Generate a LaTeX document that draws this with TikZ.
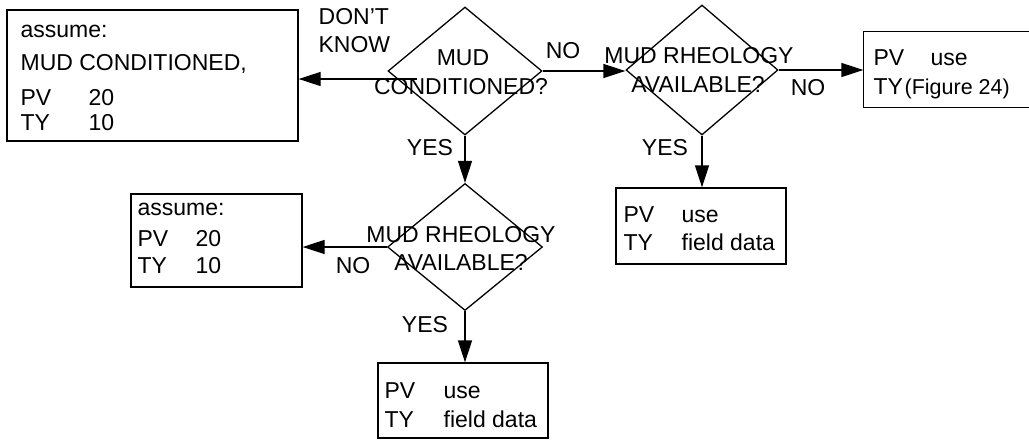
\documentclass[tikz,border=0pt]{standalone}
\usepackage{fontspec}
\setmainfont{Liberation Sans}
\usetikzlibrary{shapes.geometric,arrows.meta}
\begin{document}
\begin{tikzpicture}[x=1pt,y=-1pt,
  line width=1.3pt,
  txt/.style={inner sep=0pt,anchor=base west,font=\fontsize{23}{27}\selectfont},
  ctxt/.style={txt,anchor=base},
  smalltxt/.style={txt,font=\fontsize{21.5}{25}\selectfont},
  box/.style={draw,rectangle,inner sep=0pt},
  decision/.style={draw,diamond,inner sep=0pt},
  flow/.style={-{Triangle[length=22pt,width=14pt]}}]
\useasboundingbox (0,0) rectangle (1029,440);

% decisions
\node[decision,minimum width=154pt,minimum height=128pt] (d1) at (465,71) {};
\node[decision,minimum width=152pt,minimum height=130pt] (d2) at (702,70) {};
\node[decision,minimum width=155pt,minimum height=127pt] (d3) at (465,247) {};

% result boxes
\node[box,minimum width=291pt,minimum height=131pt] (b1) at (152.5,75.5) {};
\node[rectangle,inner sep=0pt,minimum width=165pt,minimum height=75pt] (b3) at (946.5,69.5) {};
\draw ([xshift=10pt]b3.north east) -- (b3.north west) -- (b3.south west) -- ([xshift=10pt]b3.south east);
\node[box,minimum width=170pt,minimum height=76pt] (b4) at (701,226) {};
\node[box,minimum width=171pt,minimum height=93pt] (b5) at (216.5,240.5) {};
\node[box,minimum width=170pt,minimum height=75pt] (b6) at (463,400.5) {};

% connectors
\coordinate (s1) at (417,79);
\draw[flow] (s1) -- (s1 -| b1.east);
\draw[flow] (d1.east) -- (d1.east -| d2.west);
\draw[flow] (d2.east) -- (d2.east -| b3.west);
\draw[flow] (d1.south) -- (d3.north);
\draw[flow] (d2.south) -- (d2.south |- b4.north);
\draw[flow] (d3.west) -- (d3.west -| b5.east);
\draw[flow] (d3.south) -- (d3.south |- b6.north);

% box 1
\node[txt] (t1a) at (20,37) {assume:};
\node[txt] (t1b) at (20,70) {MUD CONDITIONED,};
\node[txt] (t1c) at (20,105) {PV};
\node[txt] (t1d) at (88,105) {20};
\node[txt] (t1e) at (20,130) {TY};
\node[txt] (t1f) at (88,130) {10};

% branch labels
\node[txt] (l1a) at (318,24) {DON’T};
\node[txt] (l1b) at (318,52) {KNOW};
\node[ctxt] (l2) at (563,58) {NO};
\node[ctxt] (l3) at (808,95) {NO};
\node[ctxt] (l4) at (430,155) {YES};
\node[ctxt] (l5) at (665,155) {YES};
\node[ctxt] (l6) at (353,273) {NO};
\node[ctxt] (l7) at (425,332) {YES};

% decision texts
\node[ctxt] (q1a) at (463,65) {MUD};
\node[ctxt] (q1b) at (461,94) {CONDITIONED?};
\node[ctxt] (q2a) at (699,63) {MUD RHEOLOGY};
\node[ctxt] (q2b) at (698,92) {AVAILABLE?};
\node[ctxt] (q3a) at (461,242) {MUD RHEOLOGY};
\node[ctxt] (q3b) at (461,270) {AVAILABLE?};

% box 3
\node[txt] (t3a) at (873,65) {PV};
\node[txt] (t3b) at (930,65) {use};
\node[txt] (t3c) at (873,94) {TY};
\node[smalltxt] (t3d) at (904,94) {(Figure 24)};

% box 4
\node[txt] (t4a) at (623,222) {PV};
\node[txt] (t4b) at (681,222) {use};
\node[txt] (t4c) at (623,250) {TY};
\node[txt] (t4d) at (681,250) {field data};

% box 5
\node[txt] (t5a) at (137,215) {assume:};
\node[txt] (t5b) at (137,246) {PV};
\node[txt] (t5c) at (195,246) {20};
\node[txt] (t5d) at (137,273) {TY};
\node[txt] (t5e) at (195,273) {10};

% box 6
\node[txt] (t6a) at (384,398) {PV};
\node[txt] (t6b) at (443,398) {use};
\node[txt] (t6c) at (384,427) {TY};
\node[txt] (t6d) at (443,427) {field data};
\end{tikzpicture}
\end{document}
